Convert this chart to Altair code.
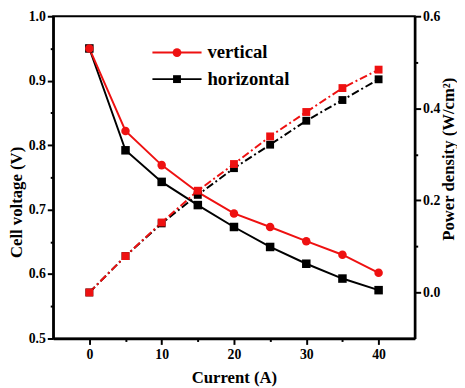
import altair as alt
import pandas as pd

# ---- data ----
current = [0, 5, 10, 15, 20, 25, 30, 35, 40]
v_vertical = [0.950, 0.822, 0.769, 0.727, 0.694, 0.673, 0.651, 0.630, 0.602]
v_horizontal = [0.950, 0.792, 0.743, 0.707, 0.673, 0.642, 0.616, 0.593, 0.575]
p_vertical = [0.0, 0.079, 0.152, 0.221, 0.279, 0.339, 0.392, 0.444, 0.484]
p_horizontal = [0.0, 0.079, 0.150, 0.212, 0.270, 0.321, 0.373, 0.418, 0.463]
series_names = ["vertical", "horizontal"]
series_colors = ["#ee1111", "#000000"]
series_shapes = ["circle", "square"]
x_ticks = [0, 5, 10, 15, 20, 25, 30, 35, 40]
yl_ticks = [0.5, 0.55, 0.6, 0.65, 0.7, 0.75, 0.8, 0.85, 0.9, 0.95, 1.0]
yr_ticks = [0.0, 0.1, 0.2, 0.3, 0.4, 0.5, 0.6]

rows = []
for name, vs, ps in [("horizontal", v_horizontal, p_horizontal),
                     ("vertical", v_vertical, p_vertical)]:
    for c, v, p in zip(current, vs, ps):
        rows.append({"series": name, "current": c, "voltage": v, "power": p})
df = pd.DataFrame(rows)

FONT = "'Liberation Serif', 'Times New Roman', Times, 'DejaVu Serif', serif"

color = alt.Color("series:N",
                  scale=alt.Scale(domain=series_names, range=series_colors),
                  legend=None)
x_enc = alt.X(
    "current:Q",
    scale=alt.Scale(domain=[-5, 45], nice=False, zero=False),
    axis=alt.Axis(
        values=x_ticks,
        title="Current (A)",
        labelExpr="datum.value % 10 == 0 ? datum.label : ''",
        tickSize={"condition": {"test": "datum.value % 10 == 0", "value": 6}, "value": 3},
        labelPadding=3,
        titlePadding=9,
    ),
)

yl = alt.Y(
    "voltage:Q",
    scale=alt.Scale(domain=[0.5, 1.0], nice=False, zero=False),
    axis=alt.Axis(
        values=yl_ticks,
        title="Cell voltage (V)",
        orient="left",
        labelExpr="abs(datum.value*10 - round(datum.value*10)) < 0.001 ? format(datum.value, '.1f') : ''",
        tickSize={"condition": {"test": "abs(datum.value*10 - round(datum.value*10)) < 0.001", "value": 6}, "value": 3},
        labelPadding=2,
        titleAngle=270,
        titleAlign="center",
        titleBaseline="middle",
        titleX=-37,
        titleY=189,
    ),
)

yr = alt.Y(
    "power:Q",
    scale=alt.Scale(domain=[-0.1, 0.6], nice=False, zero=False),
    axis=alt.Axis(
        values=yr_ticks,
        title="Power density (W/cm²)",
        orient="right",
        labelExpr="abs(datum.value*5 - round(datum.value*5)) < 0.001 ? format(datum.value, '.1f') : ''",
        tickSize={"condition": {"test": "abs(datum.value*5 - round(datum.value*5)) < 0.001", "value": 6}, "value": 3},
        labelPadding=2,
        titleAngle=270,
        titleAlign="center",
        titleBaseline="middle",
        titleX=34,
        titleY=145,
    ),
)

base = alt.Chart(df)

v_line = base.mark_line(strokeWidth=2).encode(x=x_enc, y=yl, color=color, detail="series:N")
v_pts = base.mark_point(filled=True, opacity=1, size=75).encode(
    x=x_enc, y=yl, color=color,
    shape=alt.Shape("series:N", scale=alt.Scale(domain=series_names, range=series_shapes), legend=None),
)
volt = alt.layer(v_line, v_pts)

p_line = base.mark_line(strokeWidth=2, strokeDash=[8, 3, 2, 3]).encode(
    x=x_enc, y=yr, color=color, detail="series:N")
p_pts = base.mark_point(filled=True, opacity=1, size=64, shape="square").encode(
    x=x_enc, y=yr, color=color)
power = alt.layer(p_line, p_pts)

# ---- manual legend ----
leg_layers = []
leg_y = [37, 64]
for name, col, shp, yy in zip(series_names, series_colors, series_shapes, leg_y):
    ldf = pd.DataFrame({"label": [name]})
    lc = alt.Chart(ldf)
    leg_layers.append(lc.mark_rule(color=col, strokeWidth=2).encode(
        x=alt.value(101), x2=alt.value(151), y=alt.value(yy)))
    leg_layers.append(lc.mark_point(filled=True, opacity=1, color=col, shape=shp,
                                    size=80 if shp == "circle" else 64).encode(
        x=alt.value(126), y=alt.value(yy)))
    leg_layers.append(lc.mark_text(align="left", baseline="middle", font=FONT,
                                   fontSize=19, fontWeight="bold", color="black").encode(
        x=alt.value(157), y=alt.value(yy), text="label:N"))

chart = alt.layer(volt, power, *leg_layers).resolve_scale(y="independent").properties(
    width=368,
    height=328,
    autosize=alt.AutoSizeParams(type="none"),
    padding={"left": 46, "top": 5, "right": 43, "bottom": 47},
).configure_view(
    stroke="black", strokeWidth=2
).configure_axis(
    grid=False,
    domainColor="black",
    domainWidth=2.5,
    tickColor="black",
    tickWidth=2,
    labelFont=FONT,
    labelFontSize=14,
    labelFontWeight="bold",
    labelColor="black",
    labelFlush=False,
    labelOverlap=False,
    titleFont=FONT,
    titleFontSize=17,
    titleFontWeight="bold",
    titleColor="black",
)

chart.save("out.html", embed_options={"renderer": "svg", "actions": False})
